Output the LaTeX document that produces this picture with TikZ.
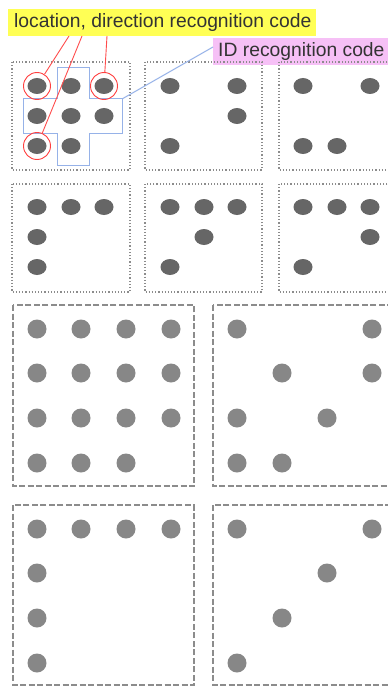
\documentclass[tikz,border=0pt]{standalone}
\usepackage{fontspec}
\setmainfont{Liberation Sans}
\usetikzlibrary{shapes.geometric}
\definecolor{ylab}{RGB}{255,255,85}
\definecolor{plab}{RGB}{246,192,246}
\definecolor{bln}{RGB}{150,178,232}
\begin{document}
\begin{tikzpicture}[x=1bp,y=-1bp,
  sbox/.style={draw=black!45, dotted, line width=1.2bp},
  bbox/.style={draw=black!45, dash pattern=on 6bp off 2.5bp, line width=2.6bp},
  sdot/.style={ellipse, fill=black!60, minimum width=19bp, minimum height=16bp, inner sep=0pt},
  bdot/.style={circle, fill=black!47, minimum size=19bp, inner sep=0pt},
  ring/.style={draw=red!75, line width=0.9bp, circle, minimum size=27bp, inner sep=0pt},
  redl/.style={draw=red!70, line width=0.9bp},
  bluel/.style={draw=bln, line width=1bp},
  lab/.style={font=\fontsize{19.3bp}{21bp}\selectfont, inner sep=0pt, anchor=west, text=black!80}
]
\useasboundingbox (0,0) rectangle (387,686);
\fill[white] (0,0) rectangle (387,686);

% labels
\fill[ylab] (8,9) rectangle (316,36);
\node[lab] (locl) at (14,23) {location, direction recognition code};
\fill[plab] (213,38) rectangle (390,65);
\node[lab] (idl) at (218,52) {ID recognition code};

% small boxes row 1
\draw[sbox] (12,62) rectangle (130,170);
\draw[sbox] (145,62) rectangle (262,170);
\draw[sbox] (279,62) rectangle (396,170);
% row 2
\draw[sbox] (12,184) rectangle (130,292);
\draw[sbox] (145,184) rectangle (262,292);
\draw[sbox] (279,184) rectangle (396,292);

% cross outline
\draw[bluel] (57,68) -- (89,68) -- (89,99) -- (122,99) -- (122,133) -- (89,133) -- (89,165) -- (57,165) -- (57,133) -- (23,133) -- (23,99) -- (57,99) -- cycle;
\coordinate (crossc) at (122,99);
\coordinate (idc) at (213,47);
\draw[bluel] (crossc) -- (idc);

% box 1 dots
\foreach \n/\x/\y in {a1/37/86,a2/71/86,a3/104/86,a4/37/116,a5/71/116,a6/104/116,a7/37/146,a8/71/146}
  \node[sdot] (\n) at (\x,\y) {};
\node[ring] (r1) at (a1) {};
\node[ring] (r3) at (a3) {};
\node[ring] (r7) at (a7) {};
\coordinate (s1) at (69,36);
\coordinate (s2) at (82,36);
\coordinate (s3) at (107,36);
\draw[redl] (s1) -- (r1);
\draw[redl] (s2) -- (r7);
\draw[redl] (s3) -- (r3);

% box 2, 3
\foreach \n/\x/\y in {b1/170/86,b2/237/86,b3/237/116,b4/170/146,
                      c1/303/86,c2/370/86,c3/303/146,c4/337/146}
  \node[sdot] (\n) at (\x,\y) {};
% row 2
\foreach \n/\x/\y in {d1/37/207,d2/71/207,d3/104/207,d4/37/237,d5/37/267,
                      e1/170/207,e2/204/207,e3/237/207,e4/204/237,e5/170/267,
                      f1/303/207,f2/337/207,f3/370/207,f4/370/237,f5/303/267}
  \node[sdot] (\n) at (\x,\y) {};

% big boxes
\draw[bbox] (13,305) rectangle (194,486);
\draw[bbox] (213,305) rectangle (394,486);
\draw[bbox] (13,505) rectangle (194,685);
\draw[bbox] (213,505) rectangle (394,685);

\foreach \n/\x/\y in {g1/37/329,g2/81/329,g3/126/329,g4/171/329,
                      g5/37/373,g6/81/373,g7/126/373,g8/171/373,
                      g9/37/418,g10/81/418,g11/126/418,g12/171/418,
                      g13/37/463,g14/81/463,g15/126/463,
                      h1/237/329,h2/372/329,h3/282/373,h4/372/373,h5/237/418,h6/327/418,h7/237/463,h8/282/463,
                      i1/37/529,i2/81/529,i3/126/529,i4/171/529,i5/37/573,i6/37/618,i7/37/663,
                      j1/237/529,j2/372/529,j3/327/573,j4/282/618,j5/237/663}
  \node[bdot] (\n) at (\x,\y) {};
\end{tikzpicture}
\end{document}
